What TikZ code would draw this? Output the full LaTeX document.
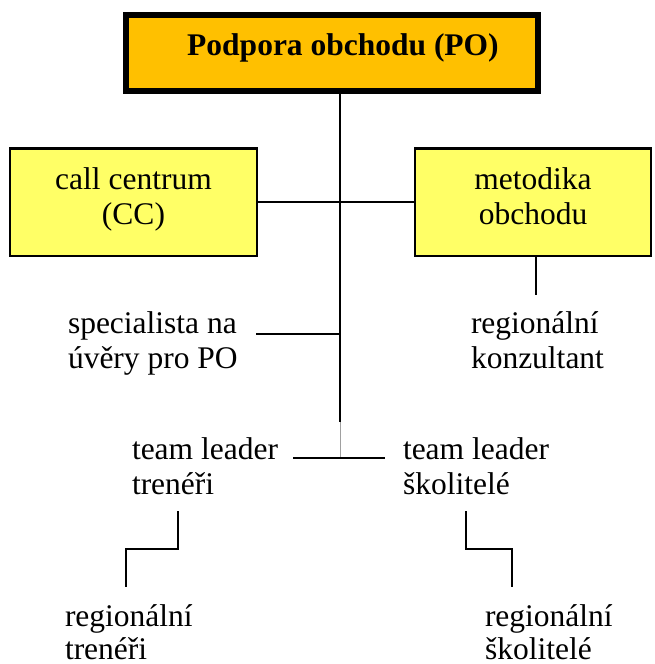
\documentclass[tikz,border=0pt]{standalone}
\usepackage{fontspec}
\setmainfont{LiberationSerif-Regular.ttf}[BoldFont=LiberationSerif-Bold.ttf]
\definecolor{poorange}{HTML}{FFC000}
\definecolor{boxyellow}{HTML}{FFFF66}
\definecolor{thinline}{HTML}{A0A0A0}
% multi-line blocks whose reference point is the first baseline
\newcommand{\ctrlines}[1]{\vtop{\halign{\hfil##\hfil\cr#1\crcr}}}
\newcommand{\leftlines}[1]{\vtop{\halign{##\hfil\cr#1\crcr}}}
\begin{document}
\begin{tikzpicture}[x=1pt,y=-1pt,
  every node/.style={inner sep=0pt, outer sep=0pt, font=\fontsize{31.5}{35}\selectfont},
  topbox/.style={draw, line width=5.5pt, fill=poorange, minimum width=412pt,
    minimum height=76pt, text height=14pt, text depth=9.7pt,
    font=\fontsize{31.5}{35}\selectfont\bfseries},
  unitbox/.style={draw, line width=2.5pt, fill=boxyellow, minimum height=107.5pt,
    text height=0pt, text depth=26.5pt},
  label/.style={anchor=base west},
  lowlabel/.style={anchor=base west, font=\fontsize{31.5}{33}\selectfont},
  conn/.style={line width=2pt},
  faint/.style={line width=1pt, draw=thinline}]
\useasboundingbox (0,0) rectangle (654,664);

% boxes
\node[topbox] (po) at (332,52.85) {\hspace*{22pt}Podpora obchodu (PO)};
\node[unitbox, minimum width=247pt] (cc) at (133.5,202.25) {\ctrlines{call centrum\cr (CC)}};
\node[unitbox, minimum width=236pt] (mo) at (533,202.25) {\ctrlines{metodika\cr obchodu}};

% plain text positions
\node[label] (spec) at (68,333) {\leftlines{specialista na\cr úvěry pro PO}};
\node[label] (regk) at (471,333) {\leftlines{regionální\cr konzultant}};
\node[label] (tlt) at (132,459) {\leftlines{team leader\cr trenéři}};
\node[label] (tls) at (403,459) {\leftlines{team leader\cr školitelé}};
\node[lowlabel] (regt) at (65,626) {\leftlines{regionální\cr trenéři}};
\node[lowlabel] (regs) at (485,626) {\leftlines{regionální\cr školitelé}};

% connector end points
\coordinate (spTop) at (340,91);
\coordinate (spMid) at (340,422);
\coordinate (spBot) at (340,458);
\coordinate (specEnd) at (256,334);
\coordinate (tlL) at (293,458);
\coordinate (tlR) at (385,458);
\coordinate (moLeg) at (536,295);
\coordinate (ltTop) at (178,511);
\coordinate (ltBot) at (126,587);
\coordinate (rsTop) at (466,511);
\coordinate (rsBot) at (512,587);

% connectors
\draw[conn] (spTop) -- (spMid);
\draw[faint] (spMid) -- (spBot);
\draw[conn] (cc.east) -- (mo.west);
\draw[conn] (specEnd) -- (spTop |- specEnd);
\draw[conn] (tlL) -- (tlR);
\draw[conn] (mo.south -| moLeg) -- (moLeg);
\draw[conn] (ltTop) -- (ltTop |- 0,549) -- (ltBot |- 0,549) -- (ltBot);
\draw[conn] (rsTop) -- (rsTop |- 0,549) -- (rsBot |- 0,549) -- (rsBot);
\end{tikzpicture}
\end{document}
